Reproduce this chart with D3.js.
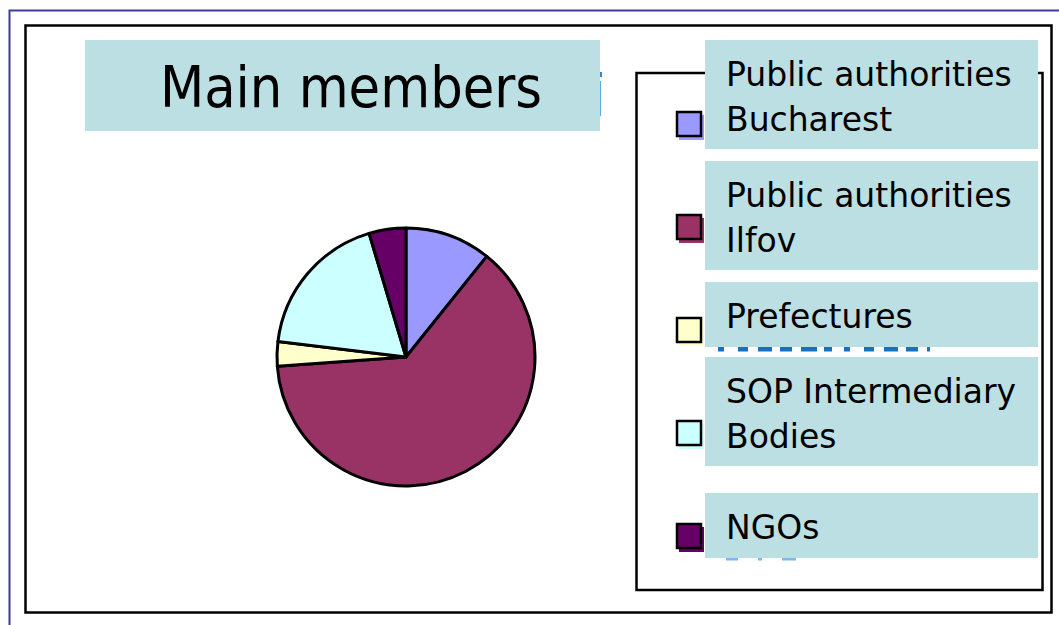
<!DOCTYPE html>
<html>
<head>
<meta charset="utf-8">
<script src="https://cdn.jsdelivr.net/npm/d3@7"></script>
<style>
    body { margin: 0; background: #fff; }
    svg { display: block; }
    text { font-family: "DejaVu Sans", sans-serif; }
    .title { font-family: "DejaVu Sans Condensed", "DejaVu Sans", sans-serif; }
</style>
</head>
<body>
<div id="chart"></div>
<script>
// data
let categories = ["Public authorities Bucharest", "Public authorities Ilfov", "Prefectures", "SOP Intermediary Bodies", "NGOs"];
let labelLines = [["Public authorities", "Bucharest"], ["Public authorities", "Ilfov"], ["Prefectures"], ["SOP Intermediary", "Bodies"], ["NGOs"]];
let members = [7, 41, 2, 12, 3];
let sliceColors = ["#9999ff", "#993366", "#ffffcc", "#ccffff", "#660066"];
let titleText = "Main members";

let width = 1059, height = 625;
let teal = "#bbdfe2";

let svg = d3.select("#chart").append("svg")
    .attr("width", width)
    .attr("height", height);

// slide frame (blue) and chart area border
svg.append("path")
    .attr("d", "M9.5," + height + "V10.5H" + width)
    .attr("fill", "none")
    .attr("stroke", "#3c3c9c")
    .attr("stroke-width", 2);

svg.append("rect")
    .attr("x", 25.5).attr("y", 25.5)
    .attr("width", 1026).attr("height", 587)
    .attr("fill", "#fff")
    .attr("stroke", "#000")
    .attr("stroke-width", 2.5);

// title box (a sliver of blue text peeks out on its right edge)
svg.append("rect")
    .attr("x", 599).attr("y", 72)
    .attr("width", 3).attr("height", 5)
    .attr("fill", "#2a8ad8");
svg.append("rect")
    .attr("x", 599).attr("y", 81)
    .attr("width", 2).attr("height", 35)
    .attr("fill", "#5aa8e6");
svg.append("rect")
    .attr("x", 85).attr("y", 40)
    .attr("width", 515).attr("height", 91)
    .attr("fill", teal);
svg.append("text")
    .attr("class", "title")
    .attr("x", 351).attr("y", 107)
    .attr("text-anchor", "middle")
    .attr("font-size", 57)
    .attr("fill", "#000")
    .text(titleText);

// pie
let pie = d3.pie().sort(null).value(d => d);
let arc = d3.arc().innerRadius(0).outerRadius(129);

let pieGroup = svg.append("g")
    .attr("transform", "translate(406,357)");

pieGroup.selectAll("path")
    .data(pie(members))
    .enter().append("path")
    .attr("d", arc)
    .attr("fill", (d, i) => sliceColors[i])
    .attr("stroke", "#000")
    .attr("stroke-width", 3)
    .attr("stroke-linejoin", "round");

// legend frame
svg.append("rect")
    .attr("x", 636.5).attr("y", 73)
    .attr("width", 406).attr("height", 517)
    .attr("fill", "#fff")
    .attr("stroke", "#000")
    .attr("stroke-width", 2.5);

// swatches evenly spaced
let ySwatch = d3.scalePoint().domain(categories).range([125, 537]);

let swatch = svg.append("g").selectAll("g")
    .data(categories)
    .enter().append("g")
    .attr("transform", d => "translate(677," + (ySwatch(d) - 13) + ")");

swatch.append("rect")
    .attr("x", 2).attr("y", 3)
    .attr("width", 25).attr("height", 25)
    .attr("fill", (d, i) => sliceColors[i]);
swatch.append("rect")
    .attr("width", 24).attr("height", 24)
    .attr("fill", (d, i) => sliceColors[i])
    .attr("stroke", "#000")
    .attr("stroke-width", 2.5);

// glyph bottoms of hidden blue text just under two overlay boxes
svg.append("line")
    .attr("x1", 718).attr("x2", 930)
    .attr("y1", 349).attr("y2", 349)
    .attr("stroke", "#1a70c0")
    .attr("stroke-width", 5)
    .attr("stroke-dasharray", "6 14 10 10 14 8 12 9 16 7 8 12");
svg.append("line")
    .attr("x1", 726).attr("x2", 806)
    .attr("y1", 559).attr("y2", 559)
    .attr("stroke", "#4a9ce0")
    .attr("stroke-width", 3)
    .attr("stroke-dasharray", "12 20 4 20 14 10")
    .attr("opacity", 0.7);

// overlay text boxes
let boxTops = [40, 161, 282, 357, 493];
let labels = svg.append("g").selectAll("g")
    .data(labelLines)
    .enter().append("g")
    .attr("transform", (d, i) => "translate(705," + boxTops[i] + ")");

labels.append("rect")
    .attr("width", 333)
    .attr("height", d => d.length > 1 ? 109 : 65)
    .attr("fill", teal);

labels.selectAll("text")
    .data(d => d)
    .enter().append("text")
    .attr("x", 21)
    .attr("y", (d, j) => 46 + j * 45)
    .attr("font-size", 33)
    .attr("fill", "#000")
    .text(d => d);
</script>
</body>
</html>
